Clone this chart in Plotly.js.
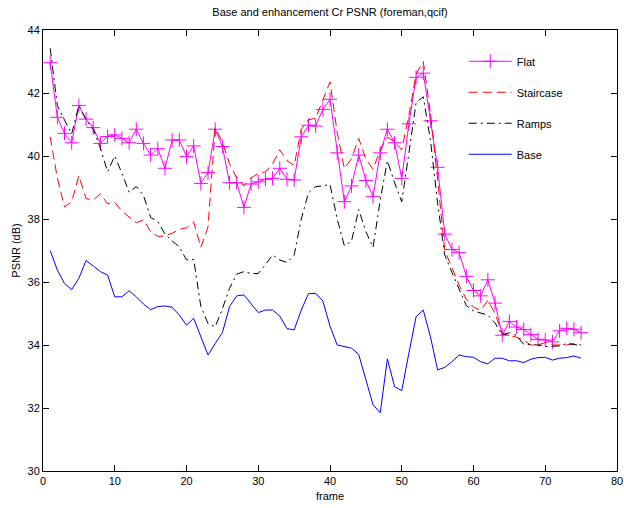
<!DOCTYPE html>
<html>
<head>
<meta charset="utf-8">
<script src="https://cdn.plot.ly/plotly-3.0.1.min.js"></script>
<style>html,body{margin:0;padding:0;background:#fff;}#chart{width:624px;height:508px;}</style>
</head>
<body>
<div id="chart"></div>
<script>
var frames = [1,2,3,4,5,6,7,8,9,10,11,12,13,14,15,16,17,18,19,20,21,22,23,24,25,26,27,28,29,30,31,32,33,34,35,36,37,38,39,40,41,42,43,44,45,46,47,48,49,50,51,52,53,54,55,56,57,58,59,60,61,62,63,64,65,66,67,68,69,70,71,72,73,74,75];

var flat = [42.96,41.23,40.72,40.42,41.6,41.17,40.9,40.4,40.62,40.67,40.56,40.42,40.85,40.4,40.03,40.23,39.61,40.51,40.51,39.98,40.32,39.13,39.47,40.85,40.3,39.15,39.15,38.37,39.11,39.18,39.26,39.29,39.61,39.26,39.24,40.61,40.98,40.95,41.48,41.8,40.1,38.55,39.05,40.03,39.22,38.71,40.1,40.85,40.42,39.29,41.02,42.5,42.63,41.12,39.64,37.52,37.03,36.93,36.18,35.73,35.56,36.07,35.33,34.31,34.75,34.57,34.49,34.33,34.18,34.16,34.1,34.45,34.53,34.5,34.39];

var staircase = [40.61,39.3,38.38,38.55,39.37,38.65,38.6,38.8,38.48,38.53,38.25,38.07,37.88,37.97,37.6,37.45,37.46,37.55,37.67,37.72,37.91,37.1,37.75,40.9,40.45,39.75,39.3,39.05,39.3,39.45,39.5,39.75,40.2,39.85,39.7,40.85,41.15,41.2,41.8,42.35,40.75,39.6,39.92,40.56,39.9,39.58,40.2,40.6,40.45,40.2,41.3,42.6,43.0,41.35,39.25,37.0,36.45,35.9,35.45,35.2,35.1,35.42,35.0,34.37,34.3,34.25,34.15,34.0,34.0,34.08,34.0,34.0,34.0,34.05,34.0];

var ramps = [43.42,41.6,41.14,40.7,41.6,41.14,40.85,40.25,39.5,40.0,39.45,38.85,39.03,38.75,38.05,37.92,37.52,37.3,37.12,36.7,36.72,35.22,34.68,34.58,35.15,35.8,36.25,36.33,36.27,36.27,36.55,36.86,36.7,36.62,36.85,38.0,38.83,39.03,39.05,39.1,38.0,37.15,37.3,38.3,37.6,37.1,38.6,39.85,39.15,38.55,40.1,41.7,41.88,40.5,38.5,36.85,36.3,35.8,35.25,35.08,35.02,34.95,34.7,34.32,34.39,34.3,34.02,34.0,34.0,33.95,33.95,33.97,34.05,34.02,33.98];

var base = [37.0,36.38,35.95,35.76,36.12,36.68,36.51,36.33,36.22,35.53,35.53,35.72,35.53,35.3,35.12,35.22,35.24,35.2,34.95,34.63,34.85,34.26,33.68,34.05,34.39,35.22,35.56,35.59,35.32,35.03,35.11,35.11,34.92,34.52,34.48,35.11,35.63,35.64,35.4,34.6,34.0,33.94,33.9,33.7,32.89,32.1,31.85,33.56,32.68,32.55,33.75,34.9,35.11,34.26,33.21,33.29,33.47,33.68,33.63,33.61,33.47,33.4,33.58,33.58,33.5,33.5,33.44,33.55,33.6,33.61,33.52,33.58,33.6,33.65,33.58];

var seriesNames = ['Flat','Staircase','Ramps','Base'];
var xTicks = [0,10,20,30,40,50,60,70,80];
var yTicks = [30,32,34,36,38,40,42,44];

var font = {family: 'Liberation Sans, Arial, Helvetica, sans-serif', size: 11, color: '#000'};

var traces = [
  {x: frames, y: flat, name: seriesNames[0], legendgroup: 'a', mode: 'lines+markers',
   line: {color: '#ff00ff', width: 1},
   marker: {symbol: 'cross-thin-open', size: 10, color: '#ff00ff', line: {color: '#ff00ff', width: 1}}},
  {x: frames, y: staircase, name: seriesNames[1], legendgroup: 'b', mode: 'lines',
   line: {color: '#ff0000', width: 1, dash: '9px,5px'}},
  {x: frames, y: ramps, name: seriesNames[2], legendgroup: 'c', mode: 'lines',
   line: {color: '#000000', width: 1, dash: '8px,4px,2px,4px'}},
  {x: frames, y: base, name: seriesNames[3], legendgroup: 'd', mode: 'lines',
   line: {color: '#0000ff', width: 1}}
];

var axisCommon = {
  showline: true, linecolor: '#000', linewidth: 1, mirror: 'ticks',
  ticks: 'inside', ticklen: 6, tickcolor: '#000', tickwidth: 1,
  showgrid: false, zeroline: false, tickfont: font, automargin: false
};

var layout = {
  width: 624, height: 508,
  margin: {l: 43, r: 7, t: 30, b: 37},
  paper_bgcolor: '#fff', plot_bgcolor: '#fff',
  font: font,
  title: {text: 'Base and enhancement Cr PSNR (foreman,qcif)', font: font,
          xref: 'paper', x: 0.5, xanchor: 'center', yref: 'container', y: 0.976, yanchor: 'middle'},
  xaxis: Object.assign({}, axisCommon, {range: [0, 80], tickvals: xTicks, ticktext: xTicks.map(String),
          title: {text: 'frame', font: font, standoff: 6}}),
  yaxis: Object.assign({}, axisCommon, {range: [30, 44], tickvals: yTicks, ticktext: yTicks.map(String),
          title: {text: 'PSNR (dB)', font: font, standoff: 4}}),
  showlegend: true,
  legend: {x: 0.733, y: 0.962, xanchor: 'left', yanchor: 'top', bgcolor: 'rgba(0,0,0,0)',
           borderwidth: 0, font: font, itemwidth: 43, traceorder: 'grouped', tracegroupgap: 12}
};

Plotly.newPlot('chart', traces, layout, {staticPlot: true, displayModeBar: false});
</script>
</body>
</html>
